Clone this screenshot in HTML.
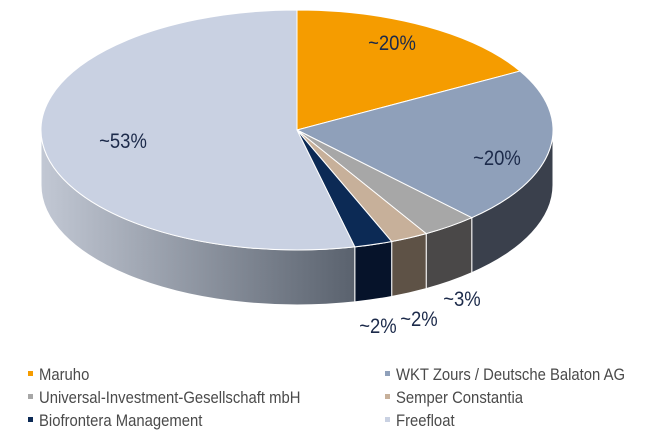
<!DOCTYPE html>
<html><head><meta charset="utf-8"><style>
body{margin:0;background:#fff;width:645px;height:437px;overflow:hidden;font-family:"Liberation Sans",sans-serif}
svg{display:block}
</style></head><body>
<svg id="c" width="645" height="437">
<defs><linearGradient id="ffside" x1="0" x2="1" y1="0" y2="0"><stop offset="0" stop-color="#c2c8d4"/><stop offset="1" stop-color="#5a626e"/></linearGradient></defs>
</svg>
<script>
const categories=["Maruho","WKT Zours / Deutsche Balaton AG","Universal-Investment-Gesellschaft mbH","Semper Constantia","Biofrontera Management","Freefloat"];
const values=[20,20,3,2,2,53];
const labels=["~20%","~20%","~3%","~2%","~2%","~53%"];
const topColors=["#f59c00","#8fa0ba","#a7a7a7","#c7b09a","#0c2a55","#c9d1e2"];
const sideColors=["#a86b00","#3a404c","#4a4848","#5e5246","#06132a","url(#ffside)"];
const svg=document.getElementById('c');const NS="http://www.w3.org/2000/svg";
const cx=297,cy=130,rx=256,ry=120,D=55;
const total=values.reduce((a,b)=>a+b,0);
function ang(frac){const a=frac*360;return a-12*Math.sin(a*Math.PI/180);}
function pt(t,dy){const r=t*Math.PI/180;return [cx+rx*Math.sin(r),cy-ry*Math.cos(r)+(dy||0)];}
function mk(tag,attrs){const e=document.createElementNS(NS,tag);for(const k in attrs)e.setAttribute(k,attrs[k]);svg.appendChild(e);return e;}
let cum=0;const sl=[];
values.forEach((v,i)=>{const t1=ang(cum/total);cum+=v;const t2=ang(cum/total);sl.push([t1,t2]);});
sl.forEach(([t1,t2],i)=>{const a=Math.max(t1,90),b=Math.min(t2,270);if(b<=a)return;
const p1=pt(a),p2=pt(b),p3=pt(b,D),p4=pt(a,D);
const d=`M${p1} A${rx},${ry} 0 0 1 ${p2} L${p3} A${rx},${ry} 0 0 0 ${p4} Z`;
const e=mk('path',{d:d,fill:sideColors[i],stroke:'#fff','stroke-width':1});

});
sl.forEach(([t1,t2],i)=>{const p1=pt(t1),p2=pt(t2);const large=(t2-t1)>180?1:0;
const e=mk('path',{d:`M${cx},${cy} L${p1} A${rx},${ry} 0 ${large} 1 ${p2} Z`,fill:topColors[i],stroke:'#fff','stroke-width':1});

});
const lp=[[392,50],[497,165],[462,306],[419,326],[378,333],[123,148]];
labels.forEach((l,i)=>{const e=mk('text',{x:lp[i][0],y:lp[i][1],'text-anchor':'middle','font-size':21,fill:'#1c2a4a',transform:`translate(${lp[i][0]*0.12},0) scale(0.88,1)`});
e.textContent=l;

});
const lx=[28,385],ly=[375,398,421];
categories.forEach((c,i)=>{const x=lx[i%2],y=ly[Math.floor(i/2)];
const r=mk('rect',{x:x,y:y-4,width:5,height:5,fill:topColors[i]});


const t=mk('text',{x:(x+11)/0.9,y:y+5,'font-size':16.5,fill:'#4a4a4a',transform:'scale(0.9,1)'});
t.textContent=c;

});
</script>
</body></html>
